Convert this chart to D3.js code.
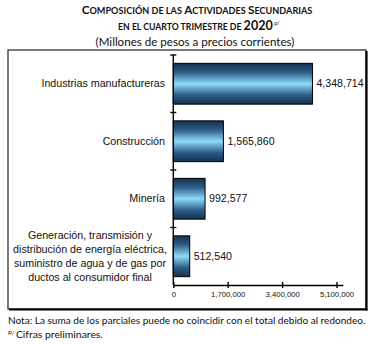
<!DOCTYPE html>
<html>
<head>
<meta charset="utf-8">
<script src="https://cdn.jsdelivr.net/npm/d3@7"></script>
<style>
  html, body { margin: 0; padding: 0; background: #fff; }
  svg { display: block; }
</style>
</head>
<body>
<svg id="chart" width="375" height="344"></svg>
<script>
// Sector composition, Q4 2020 (millions of pesos, current prices)
const categories = [
  ["Industrias manufactureras"],
  ["Construcción"],
  ["Minería"],
  ["Generación, transmisión y", "distribución de energía eléctrica,", "suministro de agua y de gas por", "ductos al consumidor final"]
];
const values = [4348714, 1565860, 992577, 512540];
const tickValues = [0, 1700000, 3400000, 5100000];

const svg = d3.select("#chart");

// bar gradient: dark navy edges, light cyan centre
const defs = svg.append("defs");
const grad = defs.append("linearGradient")
  .attr("id", "barGrad").attr("x1", 0).attr("y1", 0).attr("x2", 0).attr("y2", 1);
[[0, "#16304f"], [0.22, "#2c5c88"], [0.5, "#8ddcf6"], [0.78, "#2c5c88"], [1, "#16304f"]]
  .forEach(([o, c]) => grad.append("stop").attr("offset", o).attr("stop-color", c));

// fit a text element horizontally by scaling its font sizes
function fitWidth(sel, target) {
  const node = sel.node();
  const w = node.getComputedTextLength();
  const k = target / w;
  sel.selectAll("tspan").each(function () {
    const fs = parseFloat(this.getAttribute("font-size") || sel.attr("font-size"));
    this.setAttribute("font-size", fs * k);
  });
  const base = parseFloat(sel.attr("font-size"));
  sel.attr("font-size", base * k);
}

// small-caps rendering with explicit runs
function smallCaps(text, sel, big, small) {
  const runs = [];
  for (const ch of text) {
    const isUpper = ch !== ch.toLowerCase() || /[0-9]/.test(ch);
    const isSpace = ch === " ";
    const size = isSpace ? small : (isUpper ? big : small);
    const last = runs[runs.length - 1];
    if (last && last.size === size) last.t += ch; else runs.push({ t: ch, size });
  }
  runs.forEach(r => sel.append("tspan").attr("font-size", r.size).text(r.t.toUpperCase()));
}

// ---- titles ----
const titleFont = "Lato, 'Open Sans', sans-serif";
const t1 = svg.append("text").attr("x", 197).attr("y", 14)
  .attr("text-anchor", "middle").attr("font-family", titleFont)
  .attr("font-weight", 700).attr("font-size", 12).attr("fill", "#111");
smallCaps("Composición de las Actividades Secundarias", t1, 12, 9.3);
fitWidth(t1, 231);

const t2 = svg.append("text").attr("x", 199).attr("y", 30)
  .attr("text-anchor", "middle").attr("font-family", titleFont)
  .attr("font-weight", 700).attr("font-size", 9.3).attr("fill", "#111");
t2.append("tspan").attr("font-size", 9.3).text("EN EL CUARTO TRIMESTRE DE ");
t2.append("tspan").attr("font-size", 13.5).text("2020");
t2.append("tspan").attr("font-size", 6).attr("dy", -5).attr("font-weight", 400).text(" p/");
fitWidth(t2, 162);

const t3 = svg.append("text").attr("x", 195).attr("y", 46)
  .attr("text-anchor", "middle").attr("font-family", titleFont)
  .attr("font-size", 11.5).attr("fill", "#111")
  .text("(Millones de pesos a precios corrientes)");
fitWidth(t3, 199);

// ---- frame ----
const fx0 = 8, fy0 = 50, fx1 = 366, fy1 = 309;
svg.append("rect").attr("x", fx0).attr("y", fy0)
  .attr("width", fx1 - fx0).attr("height", fy1 - fy0)
  .attr("fill", "#fff").attr("stroke", "#333").attr("stroke-width", 1.3);
svg.append("line").attr("x1", fx1 + 0.5).attr("x2", fx1 + 0.5).attr("y1", fy0 + 1).attr("y2", fy1 + 1.5)
  .attr("stroke", "#000").attr("stroke-width", 2.2);
svg.append("line").attr("x1", fx0 + 1).attr("x2", fx1 + 1.5).attr("y1", fy1 + 0.5).attr("y2", fy1 + 0.5)
  .attr("stroke", "#000").attr("stroke-width", 2.2);

// ---- scales ----
const x0 = 173.3, yTop = 55, yBot = 285;
const x = d3.scaleLinear().domain([0, 5300000]).range([x0, x0 + 5300000 / 1700000 * 54.4]);
const y = d3.scaleBand().domain(d3.range(values.length)).range([yTop, yBot])
  .paddingInner(0.29).paddingOuter(0.145);

const labelFont = "'Liberation Sans', Arial, sans-serif";

// bars
svg.append("g").selectAll("rect").data(values).join("rect")
  .attr("x", x(0)).attr("y", (d, i) => y(i))
  .attr("width", d => x(d) - x(0)).attr("height", y.bandwidth())
  .attr("fill", "url(#barGrad)").attr("stroke", "#000").attr("stroke-width", 1);

// value labels
svg.append("g").selectAll("text").data(values).join("text")
  .attr("x", d => x(d) + 4).attr("y", (d, i) => y(i) + y.bandwidth() / 2)
  .attr("dy", "0.35em").attr("font-family", labelFont).attr("font-size", 10.6)
  .attr("fill", "#111").text(d => d3.format(",")(d));

// category labels
const lineH = 14;
const cat = svg.append("g").selectAll("text").data(categories).join("text")
  .attr("font-family", labelFont).attr("font-size", 10.7).attr("fill", "#111")
  .attr("text-anchor", "end");
cat.each(function (lines, i) {
  const cy = y(i) + y.bandwidth() / 2;
  const startY = cy - (lines.length - 1) * lineH / 2;
  d3.select(this).selectAll("tspan").data(lines).join("tspan")
    .attr("x", 165).attr("y", (d, j) => startY + j * lineH).attr("dy", "0.35em")
    .attr("text-anchor", lines.length > 1 ? "middle" : "end")
    .attr("dx", lines.length > 1 ? -75 : 0)
    .text(d => d);
});

// y axis with ticks at category boundaries
const bounds = d3.range(values.length).map(i => y(i) - y.step() * y.paddingInner() / 2);
svg.append("line").attr("x1", x0).attr("x2", x0).attr("y1", yTop).attr("y2", yBot)
  .attr("stroke", "#000").attr("stroke-width", 1.4);
svg.append("g").selectAll("line").data(bounds).join("line")
  .attr("x1", x0 - 3).attr("x2", x0 + 3).attr("y1", d => d).attr("y2", d => d)
  .attr("stroke", "#000").attr("stroke-width", 1.4);

// x axis
const xAxis = d3.axisBottom(x).tickValues(tickValues).tickSize(3)
  .tickFormat(d3.format(",")).tickSizeOuter(0);
const gx = svg.append("g").attr("transform", `translate(0,${yBot})`).call(xAxis);
gx.select(".domain").attr("stroke", "#000").attr("stroke-width", 1.4);
gx.selectAll(".tick line").attr("stroke", "#000").attr("stroke-width", 1.4).attr("y1", -3).attr("y2", 3);
gx.selectAll(".tick text").attr("font-family", labelFont).attr("font-size", 7.7)
  .attr("fill", "#111").attr("y", 9).attr("dy", "0.35em");

// ---- notes ----
const n1 = svg.append("text").attr("x", 8).attr("y", 324)
  .attr("font-family", titleFont).attr("font-size", 10).attr("fill", "#111")
  .text("Nota: La suma de los parciales puede no coincidir con el total debido al redondeo.");
fitWidth(n1, 358);
const n2 = svg.append("text").attr("x", 8).attr("y", 338)
  .attr("font-family", titleFont).attr("font-size", 10).attr("fill", "#111");
n2.append("tspan").attr("font-size", 6).attr("dy", -3.5).text("P/ ");
n2.append("tspan").attr("font-size", 10).attr("dy", 3.5).text("Cifras preliminares.");
fitWidth(n2, 95);
</script>
</body>
</html>
